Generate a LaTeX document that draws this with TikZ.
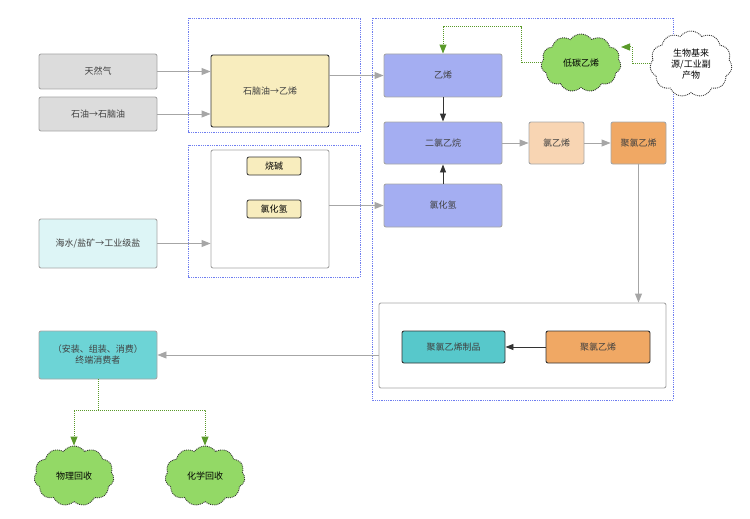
\documentclass[tikz,border=0pt]{standalone}
\usepackage{fontspec}
\setmainfont{Noto Sans CJK SC}
\usetikzlibrary{shapes.symbols,arrows.meta}
\definecolor{bxgray}{HTML}{DCDCDC}
\definecolor{bxyellow}{HTML}{F8EDBE}
\definecolor{bxcyan}{HTML}{DDF5F6}
\definecolor{bxpurple}{HTML}{A4AEF2}
\definecolor{bxpeach}{HTML}{F8D5B3}
\definecolor{bxorange}{HTML}{F0A864}
\definecolor{bxteal}{HTML}{57C8CB}
\definecolor{bxteal2}{HTML}{6DD4D6}
\definecolor{cloudgreen}{HTML}{93D966}
\definecolor{linegreen}{HTML}{5A9A2A}
\definecolor{dotblue}{HTML}{6F7EF0}
\tikzset{
  box/.style={draw=gray!70,line width=0.9pt,rounded corners=2pt,align=center,
    font=\fontsize{9}{11}\selectfont,text=black!75,inner sep=2pt},
  tag/.style={draw=black!80,line width=0.8pt,rounded corners=2pt,fill=bxyellow,
    minimum width=54,minimum height=18,font=\fontsize{9}{11}\selectfont,inner sep=1pt},
  group/.style={draw=dotblue,densely dotted,line width=0.8pt},
  flow/.style={-{Triangle[length=9pt,width=7pt]},draw=gray!70,line width=0.9pt},
  dark/.style={-{Triangle[length=8pt,width=6pt]},draw=black!80,line width=0.9pt},
  eco/.style={-{Triangle[length=9pt,width=7pt]},draw=linegreen,densely dotted,line width=1pt},
  blob/.style={cloud,cloud puffs=11,cloud puff arc=110,aspect=1.2,draw=black!80,
    densely dotted,line width=0.9pt,align=center,font=\fontsize{9}{11}\selectfont,inner sep=0pt}
}
\begin{document}
\begin{tikzpicture}[x=1pt,y=-1pt]
    \useasboundingbox (0,0) rectangle (750,519);
    % dotted groups
    \draw[group] (188,18) rectangle (360,132);
    \draw[group] (188,145) rectangle (360,277);
    \draw[group] (372,18) rectangle (673,400);

    % sources
    \node[box,fill=bxgray,minimum width=118,minimum height=35] (gas) at (98,71.5) {天然气};
    \node[box,fill=bxgray,minimum width=118,minimum height=34] (oil) at (98,114) {石油→石脑油};
    \node[box,fill=bxcyan,minimum width=118,minimum height=49,text width=108] (salt) at (98,243.5) {海水/盐矿→工业级盐};
    \node[box,fill=bxyellow,draw=black!80,minimum width=118,minimum height=72] (crack) at (270,91) {石脑油→乙烯};
    \node[box,fill=white,minimum width=118,minimum height=118] (elec) at (270,209) {};
    \node[tag] (naoh) at (274,166) {烧碱};
    \node[tag] (hcl) at (274,209) {氯化氢};

    % main chain
    \node[box,fill=bxpurple,minimum width=118,minimum height=43] (eth) at (443,75.5) {乙烯};
    \node[box,fill=bxpurple,minimum width=118,minimum height=42] (edc) at (443,143) {二氯乙烷};
    \node[box,fill=bxpurple,minimum width=118,minimum height=43] (hcl2) at (443,205.5) {氯化氢};
    \node[box,fill=bxpeach,minimum width=55,minimum height=42] (vcm) at (556.5,143) {氯乙烯};
    \node[box,fill=bxorange,minimum width=55,minimum height=42,text width=46] (pvc) at (638.5,143) {聚氯乙烯};
    \node[box,fill=white,minimum width=287,minimum height=85] (proc) at (522.5,345.5) {};
    \node[box,fill=bxteal,draw=black!80,minimum width=103,minimum height=32] (goods) at (453.5,347) {聚氯乙烯制品};
    \node[box,fill=bxorange,draw=black!80,minimum width=104,minimum height=32] (resin) at (598,347) {聚氯乙烯};
    \node[box,fill=bxteal2,minimum width=118,minimum height=48,text width=108] (user) at (98,355) {（安装、组装、消费）\\终端消费者};

    % clouds
    \node[blob,fill=cloudgreen,minimum width=80,minimum height=58] (low) at (581,63) {低碳乙烯};
    \node[blob,fill=white,minimum width=82,minimum height=66] (bio) at (691,64) {生物基来\\源/工业副\\产物};
    \node[blob,fill=cloudgreen,minimum width=80,minimum height=60] (phys) at (74,476) {物理回收};
    \node[blob,fill=cloudgreen,minimum width=80,minimum height=60] (chem) at (205,476) {化学回收};

    % connectors
    \draw[flow] (gas) -- (gas -| crack.west);
    \draw[flow] (oil) -- (oil -| crack.west);
    \draw[flow] (salt) -- (salt -| elec.west);
    \draw[flow] (crack.east |- eth) -- (eth);
    \draw[flow] (elec.east |- hcl2) -- (hcl2);
    \draw[dark] (eth) -- (edc);
    \draw[dark] (hcl2) -- (edc);
    \draw[flow] (edc) -- (vcm);
    \draw[flow] (vcm) -- (pvc);
    \draw[flow] (pvc) -- (pvc |- proc.north);
    \draw[dark] (resin) -- (goods);
    \draw[flow] (proc.west |- user) -- (user);
    \draw[eco] (low.west) -| (521,27) -| (eth.north);
    \draw[eco] (bio.west) -| (632,47) -- (621,47);
    \draw[eco] (user.south) -- (98,410) -| (phys.north);
    \draw[eco] (98,410) -| (chem.north);
\end{tikzpicture}
\end{document}
